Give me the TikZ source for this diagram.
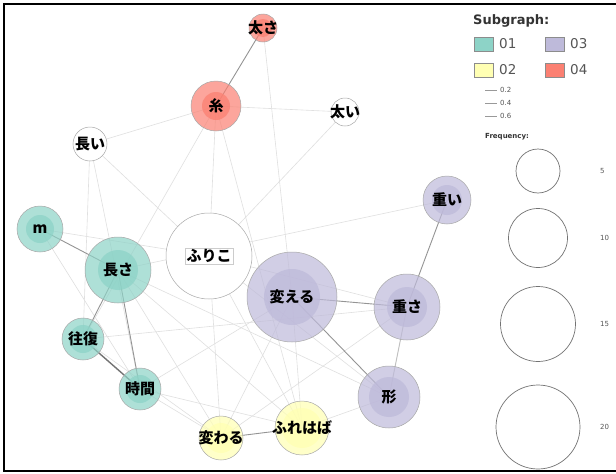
\documentclass[tikz,border=0pt]{standalone}
\usepackage{fontspec}
\setmainfont{DejaVu Sans}
\newfontfamily\jp{Noto Sans CJK JP}
\pgfdeclarelayer{edges}
\pgfsetlayers{edges,main}

% Set3 palette for the subgraphs
\definecolor{gA}{HTML}{8DD3C7}
\definecolor{gB}{HTML}{FFFFB3}
\definecolor{gC}{HTML}{BEBADA}
\definecolor{gD}{HTML}{FB8072}
\definecolor{rim}{HTML}{A8A8A8}
\definecolor{legtext}{HTML}{555555}

\tikzset{
  ring/.style={circle, inner sep=0pt, draw=rim, line width=0.5pt, fill opacity=0.7},
  core/.style={circle, inner sep=0pt, fill opacity=0.75},
  plainword/.style={circle, inner sep=0pt, draw=rim, line width=0.5pt, fill=white},
  word/.style={font=\jp\bfseries\fontsize{15}{15}\selectfont, inner sep=0pt, text=black},
  strong/.style={draw=black!42, line width=0.9pt},
  heavy/.style={draw=black!55, line width=1.4pt},
  faint/.style={draw=black!12, line width=0.6pt},
  swatch/.style={draw=black!45, line width=0.6pt, minimum width=19pt, minimum height=14pt, inner sep=0pt},
  legnum/.style={font=\fontsize{13.5}{14}\selectfont, text=legtext, anchor=west, inner sep=0pt},
  legsmall/.style={font=\fontsize{7}{8}\selectfont, text=legtext, anchor=west, inner sep=0pt},
  sizecircle/.style={circle, draw=black!55, line width=0.7pt, inner sep=0pt},
}

% name, centre, outer diameter, inner diameter, colour, text
\newcommand\wordnode[6]{%
  \node[ring, fill=#5, minimum size=#3] (#1) at (#2) {};
  \node[core, fill=#5, minimum size=#4] at (#1.center) {};
  \node[word] at (#1.center) {#6};
}

\begin{document}
\begin{tikzpicture}[x=1pt, y=-1pt]
\useasboundingbox (0,0) rectangle (616,474);

% word nodes
\wordnode{futosa}{263,28}{28pt}{18pt}{gD}{太さ}
\wordnode{ito}{216,106}{50pt}{28pt}{gD}{糸}
\node[plainword, minimum size=34pt] (nagai) at (90,144) {};
\node[word] at (nagai.center) {長い};
\node[plainword, minimum size=28pt] (futoi) at (345,112) {};
\node[word] at (futoi.center) {太い};
\wordnode{omoi}{447,200}{48pt}{30pt}{gC}{重い}
\wordnode{m}{40,229}{46pt}{28pt}{gA}{m}
\wordnode{nagasa}{118,270}{66pt}{40pt}{gA}{長さ}
\node[plainword, minimum size=86pt] (furiko) at (209,256) {};
\node[word, draw=black!20, line width=0.4pt, inner sep=1.5pt] at (furiko.center) {ふりこ};
\wordnode{kaeru}{292,297}{90pt}{56pt}{gC}{変える}
\wordnode{omosa}{407,307}{66pt}{40pt}{gC}{重さ}
\wordnode{katachi}{389,397}{62pt}{40pt}{gC}{形}
\wordnode{furehaba}{302,428}{54pt}{40pt}{gB}{ふれはば}
\wordnode{kawaru}{221,438}{44pt}{30pt}{gB}{変わる}
\wordnode{oufuku}{83,339}{42pt}{28pt}{gA}{往復}
\wordnode{jikan}{140,389}{42pt}{28pt}{gA}{時間}

% white page and connectors, beneath the nodes
\begin{pgfonlayer}{edges}
  \fill[white] (0,0) rectangle (616,474);
  \foreach \a/\b in {nagai/ito, ito/futoi, futoi/furiko, futosa/kaeru,
      ito/oufuku, ito/furiko, ito/furehaba, nagai/oufuku, nagai/jikan,
      nagai/furiko, m/furiko, nagasa/omoi, nagasa/kawaru, nagasa/furehaba,
      furiko/kawaru, furiko/furehaba, furiko/katachi, kaeru/kawaru,
      kaeru/furehaba, katachi/furehaba, oufuku/omosa, jikan/kawaru,
      jikan/furehaba, oufuku/kawaru, nagasa/katachi, jikan/kaeru,
      furiko/omosa, m/jikan, kawaru/omosa}
    \draw[faint] (\a.center) -- (\b.center);
  \foreach \a/\b in {futosa/ito, m/nagasa, nagasa/oufuku, nagasa/jikan,
      kaeru/omosa, kaeru/katachi, omoi/omosa, kawaru/furehaba}
    \draw[strong] (\a.center) -- (\b.center);
  \draw[strong, draw=black!25] (omosa.center) -- (katachi.center);
  \draw[heavy] (oufuku.center) -- (jikan.center);
\end{pgfonlayer}

% frame
\draw[line width=1.8pt] (616,4) -- (4,4) -- (4,471) -- (616,471);

% legend: subgraphs
\node[font=\bfseries\fontsize{13}{14}\selectfont, text=black!80, anchor=west, inner sep=0pt] (legtitle) at (473,21) {Subgraph:};
\node[swatch, fill=gA] (swA) at (484,44) {};
\node[legnum] at (499,44) {01};
\node[swatch, fill=gC] (swC) at (555,44) {};
\node[legnum] at (570,44) {03};
\node[swatch, fill=gB] (swB) at (484,70) {};
\node[legnum] at (499,70) {02};
\node[swatch, fill=gD] (swD) at (555,70) {};
\node[legnum] at (570,70) {04};

% legend: edge weights
\foreach \i/\y/\t/\w in {1/90/0.2/0.4, 2/103/0.4/0.6, 3/116/0.6/0.8} {
  \coordinate (wa\i) at (485,\y);
  \coordinate (wb\i) at (497,\y);
  \draw[draw=black!40, line width=\w pt] (wa\i) -- (wb\i);
  \node[legsmall] at (500,\y) {\t};
}

% legend: frequency
\node[font=\bfseries\fontsize{7}{8}\selectfont, text=black!80, anchor=west, inner sep=0pt] at (485,137) {Frequency:};
\foreach \y/\n/\d in {171/5/44pt, 238/10/59pt, 324/15/75pt, 427/20/84pt} {
  \node[sizecircle, minimum size=\d] (freq\n) at (538,\y) {};
  \node[legsmall] at (600,\y) {\n};
}
\end{tikzpicture}
\end{document}
